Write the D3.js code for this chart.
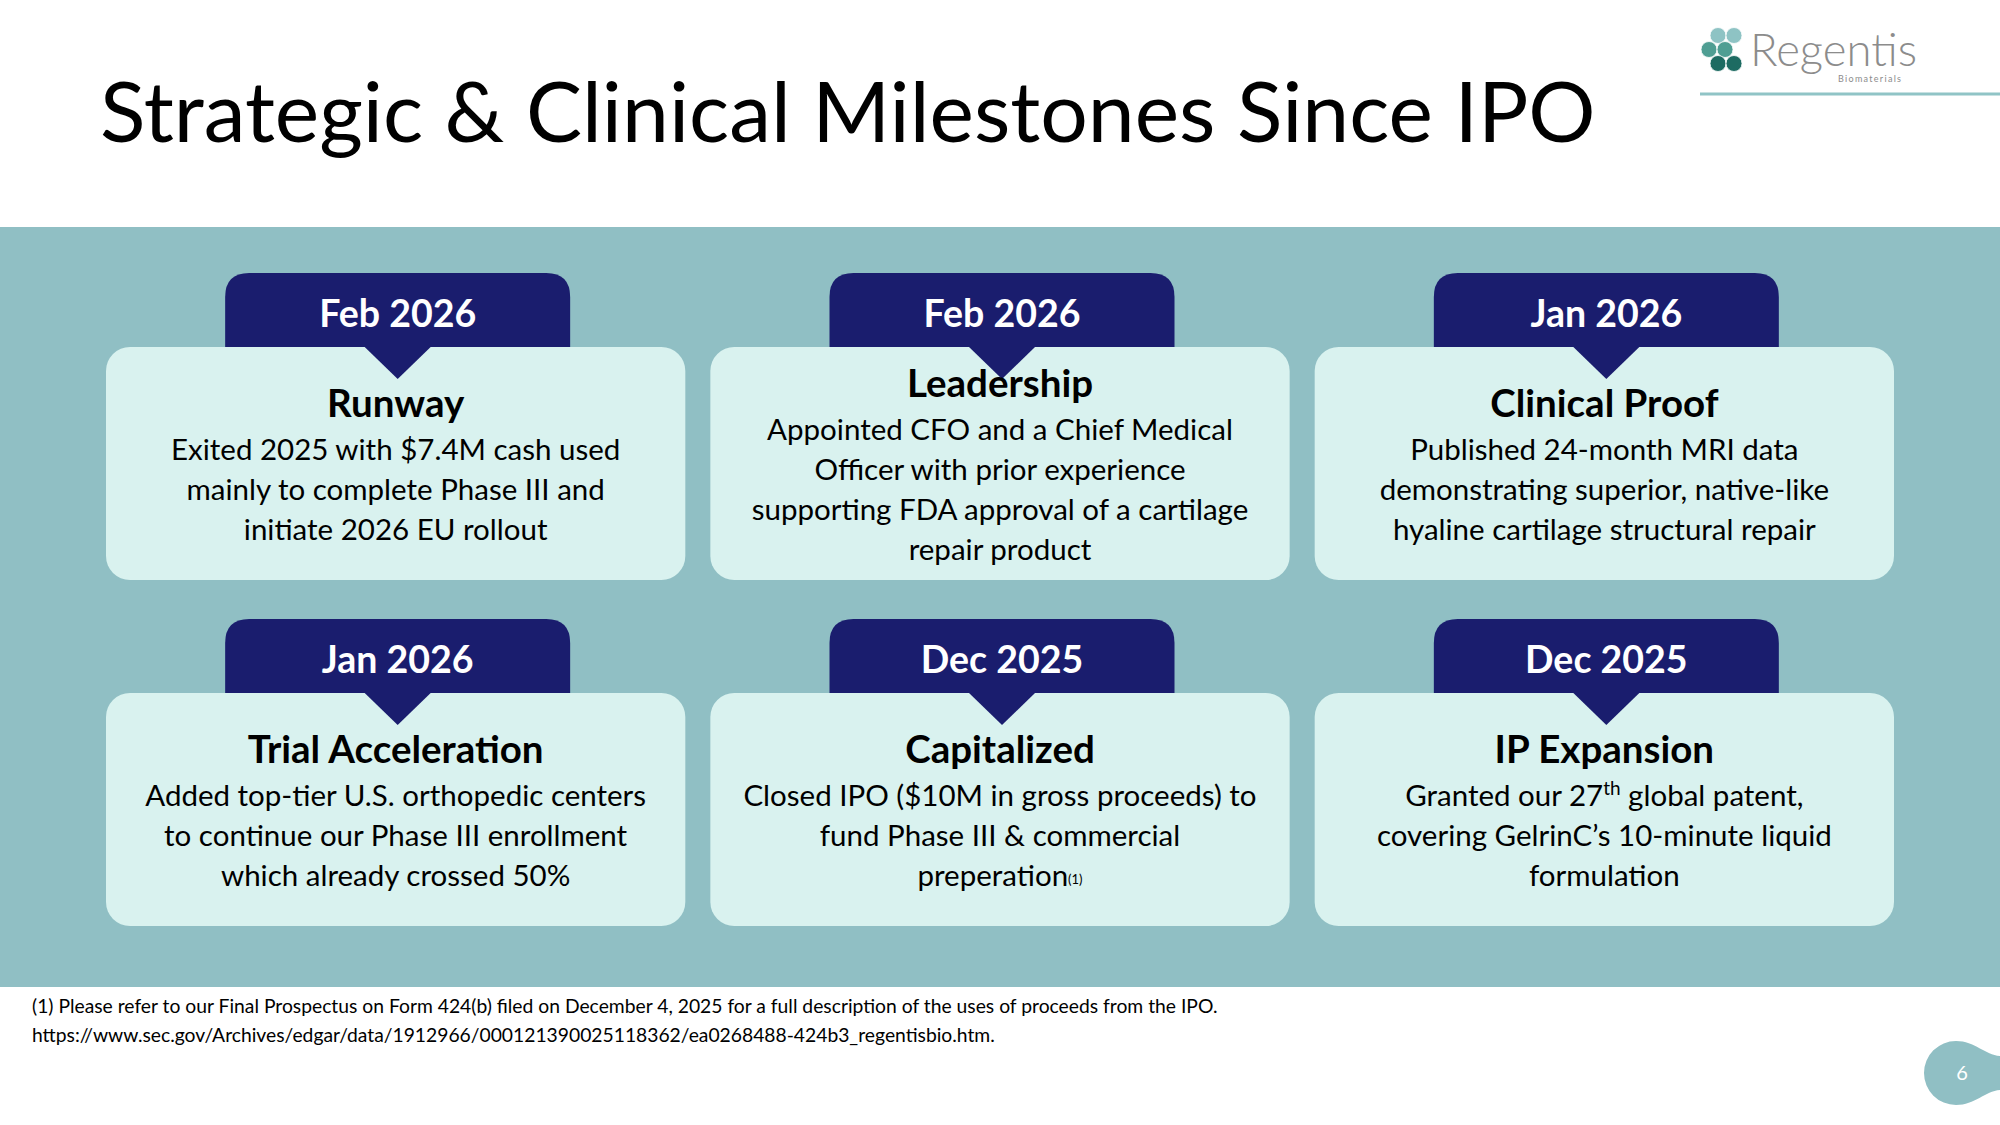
<!DOCTYPE html>
<html>
<head>
<meta charset="utf-8">
<script src="https://cdn.jsdelivr.net/npm/d3@7"></script>
<style>
  html, body { margin: 0; padding: 0; background: #fff; }
  svg { display: block; font-family: Lato, "Open Sans", sans-serif; }
</style>
</head>
<body>
<script>
// slide content
var slideTitle = 'Strategic & Clinical Milestones Since IPO';
var dates = ['Feb 2026', 'Feb 2026', 'Jan 2026', 'Jan 2026', 'Dec 2025', 'Dec 2025'];
var headings = ['Runway', 'Leadership', 'Clinical Proof', 'Trial Acceleration', 'Capitalized', 'IP Expansion'];
// ^x^ = superscript, ~x~ = small note mark
var bodyLines = [
  ['Exited 2025 with $7.4M cash used', 'mainly to complete Phase III and', 'initiate 2026 EU rollout'],
  ['Appointed CFO and a Chief Medical', 'Officer with prior experience', 'supporting FDA approval of a cartilage', 'repair product'],
  ['Published 24-month MRI data', 'demonstrating superior, native-like', 'hyaline cartilage structural repair'],
  ['Added top-tier U.S. orthopedic centers', 'to continue our Phase III enrollment', 'which already crossed 50%'],
  ['Closed IPO ($10M in gross proceeds) to', 'fund Phase III & commercial', 'preperation~(1)~'],
  ['Granted our 27^th^ global patent,', 'covering GelrinC\u2019s 10-minute liquid', 'formulation']
];
var footnotes = [
  '(1) Please refer to our Final Prospectus on Form 424(b) filed on December 4, 2025 for a full description of the uses of proceeds from the IPO.',
  'https://www.sec.gov/Archives/edgar/data/1912966/000121390025118362/ea0268488-424b3_regentisbio.htm.'
];
var pageNumber = '6';

var W = 2000, H = 1125;
var navy = '#1a1d6e', band = '#90bfc4', cardFill = '#d9f2ef';

var svg = d3.select('body').append('svg').attr('width', W).attr('height', H);

// title
svg.append('text')
  .attr('x', 100).attr('y', 142)
  .attr('font-size', 84)
  .attr('fill', '#000')
  .text(slideTitle);

// logo
var logo = svg.append('g');
var blobs = [
  {cx: 1718, cy: 35.5, c: '#8ec3c4'},
  {cx: 1709, cy: 49.5, c: '#4f9e93'},
  {cx: 1718, cy: 63.5, c: '#1d6b62'}
];
blobs.forEach(function (b) {
  [0, 16].forEach(function (dx) {
    logo.append('circle').attr('cx', b.cx + dx).attr('cy', b.cy).attr('r', 8)
      .attr('fill', b.c).attr('stroke', '#fff').attr('stroke-width', 0.8);
  });
});
logo.append('text').attr('x', 1750).attr('y', 66)
  .attr('font-size', 46).attr('font-weight', 300).attr('fill', '#8c8c8c')
  .attr('textLength', 167).attr('lengthAdjust', 'spacingAndGlyphs')
  .text('Regentis');
logo.append('text').attr('x', 1838).attr('y', 82)
  .attr('font-size', 9).attr('fill', '#8c8c8c')
  .attr('textLength', 63).attr('lengthAdjust', 'spacing')
  .text('Biomaterials');
logo.append('rect').attr('x', 1700).attr('y', 92.5).attr('width', 300).attr('height', 3)
  .attr('fill', '#90c4c6');

// teal band
svg.append('rect').attr('x', 0).attr('y', 227).attr('width', W).attr('height', 760).attr('fill', band);

// grid of cards
var cols = d3.scaleBand().domain([0, 1, 2]).range([106, 1894]).paddingInner(0.0414);
var rows = d3.scaleBand().domain([0, 1]).range([347, 926]).paddingInner(0.3266);

var items = dates.map(function (d, i) {
  return {date: d, heading: headings[i], lines: bodyLines[i], col: i % 3, row: Math.floor(i / 3)};
});

var card = svg.selectAll('g.card').data(items).enter().append('g').attr('class', 'card')
  .attr('transform', function (d) { return 'translate(' + cols(d.col) + ',' + rows(d.row) + ')'; });

var cw = cols.bandwidth(), ch = rows.bandwidth();
var tabW = 345, tabH = 74, tabR = 24;

// date tab (rounded top corners)
card.append('path')
  .attr('d', function () {
    var x0 = cw / 2 + 2 - tabW / 2, x1 = x0 + tabW, y0 = -tabH, y1 = 10;
    return 'M' + x0 + ',' + y1 + 'V' + (y0 + tabR) + 'Q' + x0 + ',' + y0 + ' ' + (x0 + tabR) + ',' + y0 +
      'H' + (x1 - tabR) + 'Q' + x1 + ',' + y0 + ' ' + x1 + ',' + (y0 + tabR) + 'V' + y1 + 'Z';
  })
  .attr('fill', navy);

card.append('text')
  .attr('x', cw / 2 + 2).attr('y', -20)
  .attr('text-anchor', 'middle')
  .attr('font-size', 37.5).attr('font-weight', 700).attr('fill', '#fff')
  .text(function (d) { return d.date; });

card.append('rect')
  .attr('width', cw).attr('height', ch).attr('rx', 24).attr('ry', 24)
  .attr('fill', cardFill);

// pointer
card.append('path')
  .attr('d', 'M' + (cw / 2 + 2 - 33) + ',0L' + (cw / 2 + 2 + 33) + ',0L' + (cw / 2 + 2) + ',32Z')
  .attr('fill', navy);

card.append('text')
  .attr('x', cw / 2).attr('y', function (d) { return 70 - (d.lines.length - 3) * 20; })
  .attr('text-anchor', 'middle')
  .attr('font-size', 38.5).attr('font-weight', 700).attr('fill', '#000')
  .text(function (d) { return d.heading; });

card.each(function (d) {
  var g = d3.select(this);
  var top = 70 - (d.lines.length - 3) * 20;
  d.lines.forEach(function (line, li) {
    var t = g.append('text')
      .attr('x', cw / 2).attr('y', top + 43 + li * 40)
      .attr('text-anchor', 'middle')
      .attr('font-size', 29.5).attr('fill', '#000');
    var parts = line.split(/(\^[^^]+\^|~[^~]+~)/);
    var back = 0;
    parts.forEach(function (p) {
      if (!p) return;
      if (p[0] === '^') {
        t.append('tspan').attr('font-size', 19).attr('dy', -11).text(p.slice(1, -1));
        back = 11;
      } else if (p[0] === '~') {
        t.append('tspan').attr('font-size', 13).attr('dy', -2).text(p.slice(1, -1));
        back = 2;
      } else {
        t.append('tspan').attr('dy', back).text(p);
        back = 0;
      }
    });
  });
});

// footnotes
svg.selectAll('text.foot').data(footnotes).enter().append('text').attr('class', 'foot')
  .attr('x', 32).attr('y', function (d, i) { return 1013 + i * 29; })
  .attr('font-size', 19.3).attr('fill', '#000')
  .text(function (d) { return d; });

// page number blob
svg.append('path')
  .attr('d', 'M1956,1041 A32,32 0 1 0 1956,1105 C1975,1105 1985,1091 2000,1090 L2000,1056 C1985,1055 1975,1041 1956,1041 Z')
  .attr('fill', band);
svg.append('text').attr('x', 1962).attr('y', 1080).attr('text-anchor', 'middle')
  .attr('font-size', 20).attr('fill', '#fff').text(pageNumber);
</script>
</body>
</html>
